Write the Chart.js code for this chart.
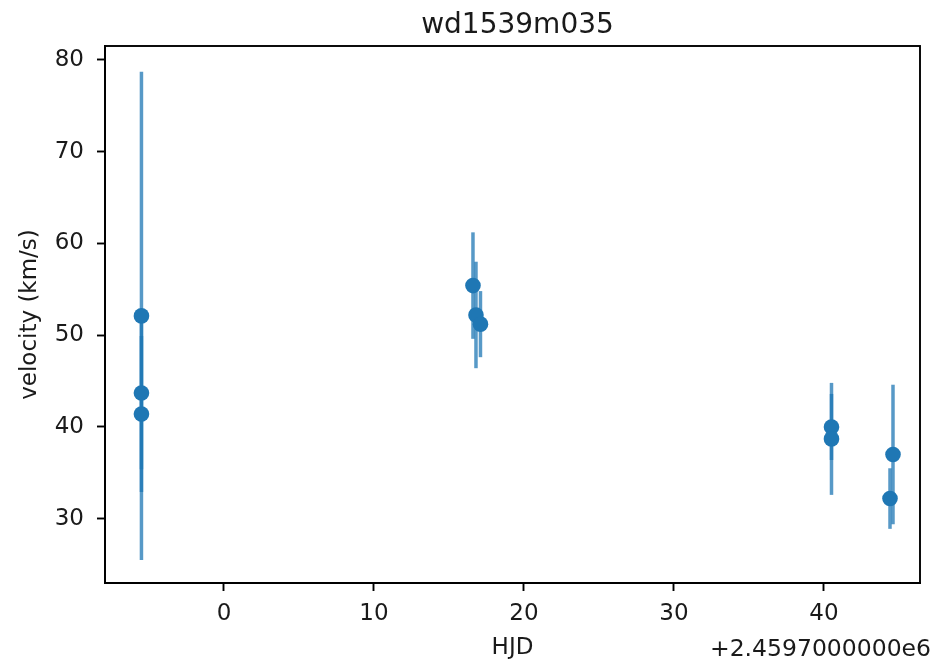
<!DOCTYPE html>
<html>
<head>
<meta charset="utf-8">
<script src="https://cdn.jsdelivr.net/npm/chart.js@4.4.0/dist/chart.umd.min.js"></script>
<style>
  html, body { margin: 0; padding: 0; background: #fff; }
  #wrap { width: 934px; height: 668px; }
</style>
</head>
<body>
<div id="wrap"><canvas id="c" width="934" height="668"></canvas></div>
<script>
/* Data: HJD offset from 2459700, velocity and its error (km/s) */
const hjd = [-5.5, -5.5, -5.5, 16.6, 16.8, 17.1, 40.5, 40.5, 44.6, 44.4];
const velocity = [52.1, 43.7, 41.4, 55.4, 52.2, 51.2, 40.0, 38.7, 37.0, 32.2];
const velErr = [26.6, 8.3, 8.5, 5.8, 5.8, 3.6, 3.6, 6.1, 7.6, 3.3];
const xTicks = [0, 10, 20, 30, 40];
const yTicks = [30, 40, 50, 60, 70, 80];

const BLUE = "#1f77b4";
const BAR = "rgba(31,119,180,0.75)";
const FONT = "'DejaVu Sans', sans-serif";
const TXT = "#1a1a1a";

/* one little line per error bar */
var datasets = [];
for(let i=0; i<hjd.length; i++){
    datasets.push({
        type: "scatter",
        data: [{x: hjd[i], y: velocity[i] - velErr[i]}, {x: hjd[i], y: velocity[i] + velErr[i]}],
        showLine: true,
        borderColor: BAR,
        borderWidth: 3.5,
        pointRadius: 0,
        borderCapStyle: "butt",
        order: 2
    });
}
datasets.push({
    type: "scatter",
    data: hjd.map((x, i) => ({x: x, y: velocity[i]})),
    backgroundColor: BLUE,
    borderColor: BLUE,
    pointRadius: 7.8,
    borderWidth: 0,
    order: 1
});

/* box around the axes, title over the axes, offset text */
const frame = {
    id: "frame",
    afterDraw(chart){
        const ctx = chart.ctx, a = chart.chartArea;
        ctx.save();
        ctx.strokeStyle = "#000";
        ctx.lineWidth = 1.9;
        ctx.strokeRect(a.left, a.top, a.right - a.left, a.bottom - a.top);
        ctx.fillStyle = TXT;
        ctx.textBaseline = "alphabetic";
        ctx.font = "28px " + FONT;
        ctx.textAlign = "center";
        ctx.fillText("wd1539m035", (a.left + a.right) / 2 + 5, 33);
        ctx.font = "23.5px " + FONT;
        ctx.textAlign = "right";
        ctx.fillText("+2.4597000000e6", 931, 656);
        ctx.restore();
    }
};

new Chart(document.getElementById("c"), {
    type: "scatter",
    data: { datasets: datasets },
    plugins: [frame],
    options: {
        responsive: false,
        animation: false,
        layout: { padding: { left: 0, right: 14, top: 46, bottom: 0 } },
        plugins: {
            legend: { display: false },
            tooltip: { enabled: false },
            title: { display: false }
        },
        scales: {
            x: {
                type: "linear",
                min: -7.93,
                max: 46.4,
                afterBuildTicks: function(s){ s.ticks = xTicks.map(v => ({value: v})); },
                afterFit: function(s){ s.height = 85; },
                grid: { display: true, drawOnChartArea: false, drawTicks: true, tickLength: 8, color: "#000", tickWidth: 1.9 },
                border: { display: true, color: "#000", width: 1.9 },
                ticks: { color: TXT, font: { family: FONT, size: 23 }, padding: 9, maxRotation: 0 },
                title: { display: true, text: "HJD", color: TXT, font: { family: FONT, size: 23 }, padding: { top: 0, bottom: 6 } }
            },
            y: {
                type: "linear",
                min: 23.0,
                max: 81.5,
                afterBuildTicks: function(s){ s.ticks = yTicks.map(v => ({value: v})); },
                afterFit: function(s){ s.width = 105; },
                grid: { display: true, drawOnChartArea: false, drawTicks: true, tickLength: 8, color: "#000", tickWidth: 1.9 },
                border: { display: true, color: "#000", width: 1.9 },
                ticks: { color: TXT, font: { family: FONT, size: 23 }, padding: 13 },
                title: { display: true, text: "velocity (km/s)", color: TXT, font: { family: FONT, size: 23 }, padding: { top: 16, bottom: 0 } }
            }
        }
    }
});
</script>
</body>
</html>
